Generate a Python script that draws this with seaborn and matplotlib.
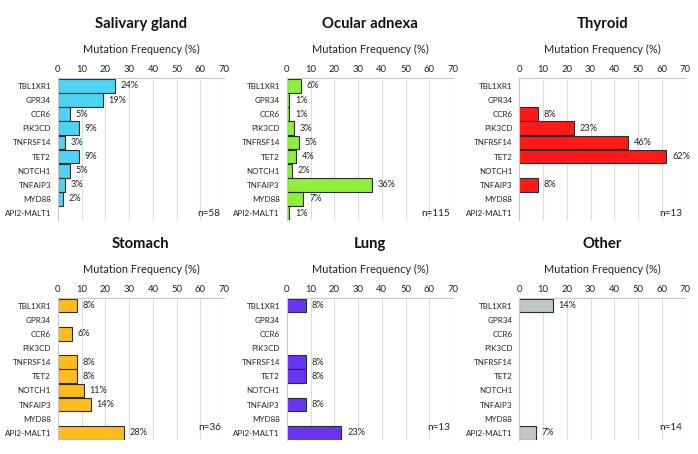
import matplotlib
matplotlib.use('Agg')
import matplotlib.pyplot as plt
import seaborn as sns
import pandas as pd

genes = ['TBL1XR1', 'GPR34', 'CCR6', 'PIK3CD', 'TNFRSF14',
         'TET2', 'NOTCH1', 'TNFAIP3', 'MYD88', 'API2-MALT1']

salivary = [24, 19, 5, 9, 3, 9, 5, 3, 2, 0]
ocular = [6, 1, 1, 3, 5, 4, 2, 36, 7, 1]
thyroid = [0, 0, 8, 23, 46, 62, 0, 8, 0, 0]
stomach = [8, 0, 6, 0, 8, 8, 11, 14, 0, 28]
lung = [8, 0, 0, 0, 8, 8, 0, 8, 0, 23]
other = [14, 0, 0, 0, 0, 0, 0, 0, 0, 7]

titles = ['Salivary gland', 'Ocular adnexa', 'Thyroid', 'Stomach', 'Lung', 'Other']
n_counts = [58, 115, 13, 36, 13, 14]
colors = ['#4fd3f3', '#8cf03a', '#ff1a1a', '#ffbc1e', '#6a35f0', '#bec8c6']
series = [salivary, ocular, thyroid, stomach, lung, other]

sns.set_style('white')
plt.rcParams['font.family'] = ['Lato', 'DejaVu Sans']

fig = plt.figure(figsize=(6.98, 4.54), dpi=100)

lefts = [0.083, 0.411, 0.744]
bottoms = [0.515, 0.031]
w, h = 0.238, 0.313

for k, (vals, title, n, col) in enumerate(zip(series, titles, n_counts, colors)):
    row, c = divmod(k, 3)
    ax = fig.add_axes([lefts[c], bottoms[row], w, h])
    df = pd.DataFrame({'gene': genes, 'freq': vals})
    sns.barplot(data=df, x='freq', y='gene', order=genes, orient='h',
                color=col, saturation=1, width=0.97,
                edgecolor='#2b2b2b', linewidth=0.8, ax=ax)
    # hide empty bars so no outline sits on the axis
    for p in ax.patches:
        if p.get_width() == 0:
            p.set_visible(False)
    ax.bar_label(ax.containers[0],
                 labels=[f'{v}%' if v else '' for v in vals],
                 padding=4, fontsize=6.6, color='#222222')

    ax.set_xlim(0, 70)
    ax.set_ylim(9.5, -0.55)
    ax.set_xticks(range(0, 71, 10))
    ax.xaxis.tick_top()
    ax.grid(axis='x', color='#dcdcdc', lw=0.8)
    ax.set_axisbelow(True)
    ax.set_xlabel('')
    ax.set_ylabel('')

    for s in ['right', 'bottom']:
        ax.spines[s].set_visible(False)
    for s in ['top', 'left']:
        ax.spines[s].set_color('#c8c8c8')
        ax.spines[s].set_linewidth(0.8)

    ax.tick_params(axis='x', labelsize=6.8, length=0, pad=3, colors='#222222')
    ax.tick_params(axis='y', which='major', labelsize=5.8, length=0, pad=5,
                   colors='#222222')
    ax.set_yticks([i + 0.5 for i in range(-1, 10)], minor=True)
    ax.tick_params(axis='y', which='minor', length=3, color='#c8c8c8', width=0.8)

    ax.text(0.5, 1.38, title, transform=ax.transAxes, ha='center', va='center',
            fontsize=10.7, fontweight='bold', color='#111111')
    ax.text(0.5, 1.20, 'Mutation Frequency (%)', transform=ax.transAxes,
            ha='center', va='center', fontsize=7.9, color='#222222')
    ny = 0.05 if row == 0 else 0.09
    ax.text(0.98, ny, f'n={n}', transform=ax.transAxes, ha='right',
            va='center', fontsize=7.2, color='#222222')

fig.savefig('out.png', dpi=100)
